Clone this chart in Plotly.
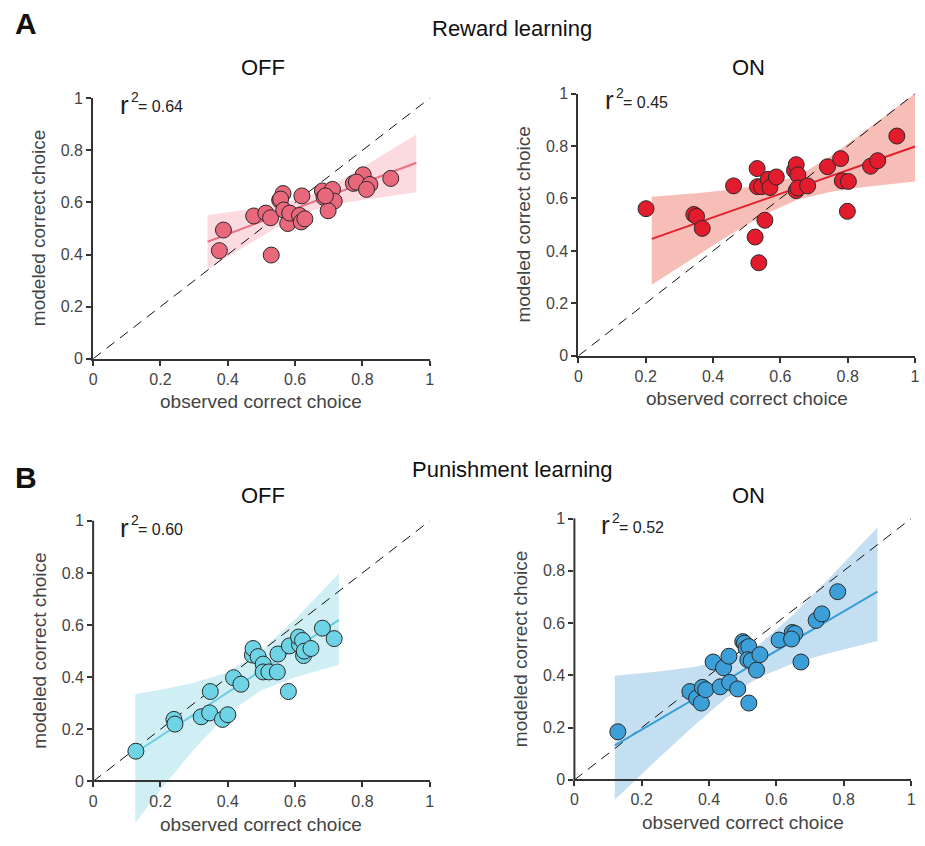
import plotly.graph_objects as go

# ---------------- data ----------------
tick_vals = [0, 0.2, 0.4, 0.6, 0.8, 1]
tick_text = ["0", "0.2", "0.4", "0.6", "0.8", "1"]

# Reward learning, OFF
rew_off_obs = [0.387, 0.375, 0.477, 0.513, 0.527, 0.529, 0.554, 0.564, 0.557, 0.566, 0.578, 0.584, 0.613, 0.618,
               0.629, 0.620, 0.681, 0.686, 0.711, 0.716, 0.698, 0.690, 0.773, 0.802, 0.782, 0.822, 0.812, 0.884]
rew_off_mod = [0.494, 0.415, 0.548, 0.559, 0.541, 0.398, 0.609, 0.634, 0.613, 0.571, 0.519, 0.559, 0.550, 0.525,
               0.537, 0.625, 0.644, 0.619, 0.650, 0.605, 0.568, 0.625, 0.673, 0.706, 0.678, 0.669, 0.650, 0.692]
rew_off_fit_x = [0.34, 0.96]
rew_off_fit_y = [0.449, 0.752]
rew_off_band_x = [0.34, 0.45, 0.55, 0.65, 0.75, 0.85, 0.96]
rew_off_band_hi = [0.552, 0.571, 0.593, 0.629, 0.696, 0.774, 0.861]
rew_off_band_lo = [0.343, 0.431, 0.507, 0.569, 0.600, 0.620, 0.639]

# Reward learning, ON
rew_on_obs = [0.201, 0.343, 0.351, 0.368, 0.461, 0.525, 0.536, 0.531, 0.532, 0.544, 0.554, 0.564, 0.569, 0.588,
              0.642, 0.647, 0.652, 0.647, 0.652, 0.681, 0.740, 0.779, 0.784, 0.802, 0.799, 0.868, 0.889, 0.946]
rew_on_mod = [0.561, 0.539, 0.532, 0.486, 0.648, 0.453, 0.355, 0.714, 0.645, 0.645, 0.517, 0.673, 0.642, 0.682,
              0.707, 0.729, 0.690, 0.630, 0.640, 0.648, 0.721, 0.752, 0.667, 0.665, 0.551, 0.723, 0.744, 0.838]
rew_on_fit_x = [0.218, 1.0]
rew_on_fit_y = [0.446, 0.798]
rew_on_band_x = [0.218, 0.35, 0.45, 0.55, 0.65, 0.75, 0.85, 1.0]
rew_on_band_hi = [0.607, 0.620, 0.633, 0.651, 0.685, 0.761, 0.856, 1.0]
rew_on_band_lo = [0.271, 0.380, 0.462, 0.537, 0.595, 0.626, 0.644, 0.665]

# Punishment learning, OFF
pun_off_obs = [0.127, 0.240, 0.243, 0.321, 0.346, 0.348, 0.384, 0.400, 0.417, 0.439, 0.473, 0.475, 0.490, 0.505,
               0.505, 0.522, 0.547, 0.549, 0.580, 0.583, 0.613, 0.610, 0.622, 0.625, 0.627, 0.647, 0.681, 0.716]
pun_off_mod = [0.116, 0.238, 0.220, 0.248, 0.263, 0.345, 0.238, 0.256, 0.398, 0.373, 0.485, 0.510, 0.479, 0.450,
               0.420, 0.420, 0.420, 0.489, 0.345, 0.520, 0.525, 0.554, 0.541, 0.483, 0.500, 0.510, 0.588, 0.548]
pun_off_fit_x = [0.125, 0.73]
pun_off_fit_y = [0.110, 0.620]
pun_off_band_x = [0.125, 0.2, 0.3, 0.4, 0.5, 0.6, 0.73]
pun_off_band_hi = [0.335, 0.352, 0.379, 0.419, 0.502, 0.622, 0.7975]
pun_off_band_lo = [-0.159, -0.032, 0.123, 0.262, 0.350, 0.400, 0.4475]

# Punishment learning, ON
pun_on_obs = [0.129, 0.343, 0.363, 0.377, 0.380, 0.390, 0.412, 0.433, 0.443, 0.459, 0.461, 0.485, 0.500, 0.505,
              0.510, 0.518, 0.515, 0.525, 0.518, 0.541, 0.551, 0.608, 0.647, 0.655, 0.645, 0.673, 0.718, 0.735, 0.782]
pun_on_mod = [0.184, 0.338, 0.313, 0.294, 0.354, 0.345, 0.451, 0.356, 0.429, 0.473, 0.373, 0.348, 0.529, 0.523,
              0.504, 0.510, 0.460, 0.456, 0.294, 0.420, 0.479, 0.535, 0.564, 0.560, 0.539, 0.451, 0.610, 0.635, 0.720]
pun_on_fit_x = [0.12, 0.90]
pun_on_fit_y = [0.132, 0.720]
pun_on_band_x = [0.12, 0.25, 0.35, 0.45, 0.55, 0.65, 0.75, 0.90]
pun_on_band_hi = [0.398, 0.415, 0.431, 0.456, 0.519, 0.632, 0.763, 0.966]
pun_on_band_lo = [-0.076, 0.083, 0.201, 0.312, 0.394, 0.445, 0.483, 0.531]

r2_values = ["0.64", "0.45", "0.60", "0.52"]
identity = [0, 1]

# ---------------- layout helpers ----------------
W, H = 925, 846
FONT = "Liberation Sans, Arial, Helvetica, sans-serif"


def px(x):
    return x / W


def py(y):
    return 1 - y / H


panels = [
    dict(obs=rew_off_obs, mod=rew_off_mod, fx=rew_off_fit_x, fy=rew_off_fit_y, bx=rew_off_band_x,
         bhi=rew_off_band_hi, blo=rew_off_band_lo, pt="#E9687B", line="#EE6E82",
         band="rgba(244,165,175,0.40)", box=(90, 430, 358, 92), ext=0.0),
    dict(obs=rew_on_obs, mod=rew_on_mod, fx=rew_on_fit_x, fy=rew_on_fit_y, bx=rew_on_band_x,
         bhi=rew_on_band_hi, blo=rew_on_band_lo, pt="#E31C2D", line="#E3202E",
         band="rgba(240,125,112,0.50)", box=(580, 920, 355, 87.3), ext=0.0),
    dict(obs=pun_off_obs, mod=pun_off_mod, fx=pun_off_fit_x, fy=pun_off_fit_y, bx=pun_off_band_x,
         bhi=pun_off_band_hi, blo=pun_off_band_lo, pt="#6DD3E5", line="#6CCDE3",
         band="rgba(160,224,236,0.50)", box=(90, 430, 789.3, 523.3), ext=0.17),
    dict(obs=pun_on_obs, mod=pun_on_mod, fx=pun_on_fit_x, fy=pun_on_fit_y, bx=pun_on_band_x,
         bhi=pun_on_band_hi, blo=pun_on_band_lo, pt="#3C9FD7", line="#3A9ED8",
         band="rgba(140,192,230,0.50)", box=(576, 916, 787.7, 521), ext=0.17),
]

fig = go.Figure()
layout = dict(
    width=W, height=H, margin=dict(l=0, r=0, t=0, b=0),
    plot_bgcolor="white", paper_bgcolor="white", showlegend=False,
    font=dict(family=FONT, color="#222"),
)
shapes = []
annotations = []

axis_common = dict(
    tickvals=tick_vals, ticktext=tick_text, ticks="outside", ticklen=5, tickwidth=2,
    tickcolor="#333", showgrid=False, zeroline=False, linecolor="#333", linewidth=2,
    tickfont=dict(family=FONT, size=16, color="#444"), fixedrange=True,
)


def ann(text, x, y, size, color="#222", xanchor="center", yanchor="middle", angle=0):
    annotations.append(dict(xref="paper", yref="paper", x=px(x), y=py(y), xanchor=xanchor,
                            yanchor=yanchor, showarrow=False, text=text, textangle=angle,
                            font=dict(family=FONT, size=size, color=color)))


for i, p in enumerate(panels, start=1):
    xa = "x" if i == 1 else f"x{i}"
    ya = "y" if i == 1 else f"y{i}"
    left, right, y0, y1 = p["box"]
    unit = y0 - y1
    ybottom = y0 + p["ext"] * unit
    xkey = "xaxis" if i == 1 else f"xaxis{i}"
    ykey = "yaxis" if i == 1 else f"yaxis{i}"

    xaxis = dict(axis_common, domain=[px(left), px(right)], range=[0, 1], showline=True)
    yaxis = dict(axis_common, domain=[py(ybottom), py(y1)], range=[-p["ext"], 1], anchor=xa)
    if p["ext"] > 0:
        xaxis.update(anchor="free", position=py(y0))
        yaxis.update(showline=False)
        shapes.append(dict(type="line", xref="paper", yref="paper", x0=px(left), x1=px(left),
                           y0=py(y0 + 1), y1=py(y1), line=dict(color="#333", width=2), layer="above"))
    else:
        xaxis.update(anchor=ya)
        yaxis.update(showline=True)
    layout[xkey] = xaxis
    layout[ykey] = yaxis

    # confidence band
    fig.add_trace(go.Scatter(
        x=p["bx"] + p["bx"][::-1], y=p["bhi"] + p["blo"][::-1], xaxis=xa, yaxis=ya,
        fill="toself", fillcolor=p["band"], line=dict(width=0), mode="lines", hoverinfo="skip"))
    # identity line
    fig.add_trace(go.Scatter(x=identity, y=identity, xaxis=xa, yaxis=ya, mode="lines",
                             line=dict(color="#111", width=1, dash="10px,7px"), hoverinfo="skip"))
    # fit line
    fig.add_trace(go.Scatter(x=p["fx"], y=p["fy"], xaxis=xa, yaxis=ya, mode="lines",
                             line=dict(color=p["line"], width=2)))
    # points
    fig.add_trace(go.Scatter(x=p["obs"], y=p["mod"], xaxis=xa, yaxis=ya, mode="markers",
                             marker=dict(size=16, color=p["pt"], line=dict(color="#2a2a2a", width=1))))

    # r^2 label, built from three pieces
    ann("r", left + 25, y1 + 7, 26, xanchor="left")
    ann("2", left + 36, y1 - 1, 14, xanchor="left")
    ann("= " + r2_values[i - 1], left + 43, y1 + 9, 16, xanchor="left")
    # axis titles
    ann("observed correct choice", (left + right) / 2, y0 + 44, 19, color="#444")
    ann("modeled correct choice", left - 55, (y0 + y1) / 2, 19, color="#444", angle=-90)

# titles
titles = [
    ("<b>A</b>", 22, 16, 30), ("<b>B</b>", 22, 479, 30),
    ("Reward learning", 513, 21, 22), ("Punishment learning", 513, 471, 22),
    ("OFF", 262, 61, 22), ("ON", 752, 61, 22),
    ("OFF", 262, 498, 22), ("ON", 752, 498, 22),
]
for t, x, y, s in titles:
    ann(t, x, y, s, color="#111")

layout["shapes"] = shapes
layout["annotations"] = annotations
fig.update_layout(**layout)
fig.write_html("out.html", config={"displayModeBar": False},
               post_script="document.body.style.margin='0';document.body.style.padding='0';"
                           "document.body.style.overflow='hidden';")
